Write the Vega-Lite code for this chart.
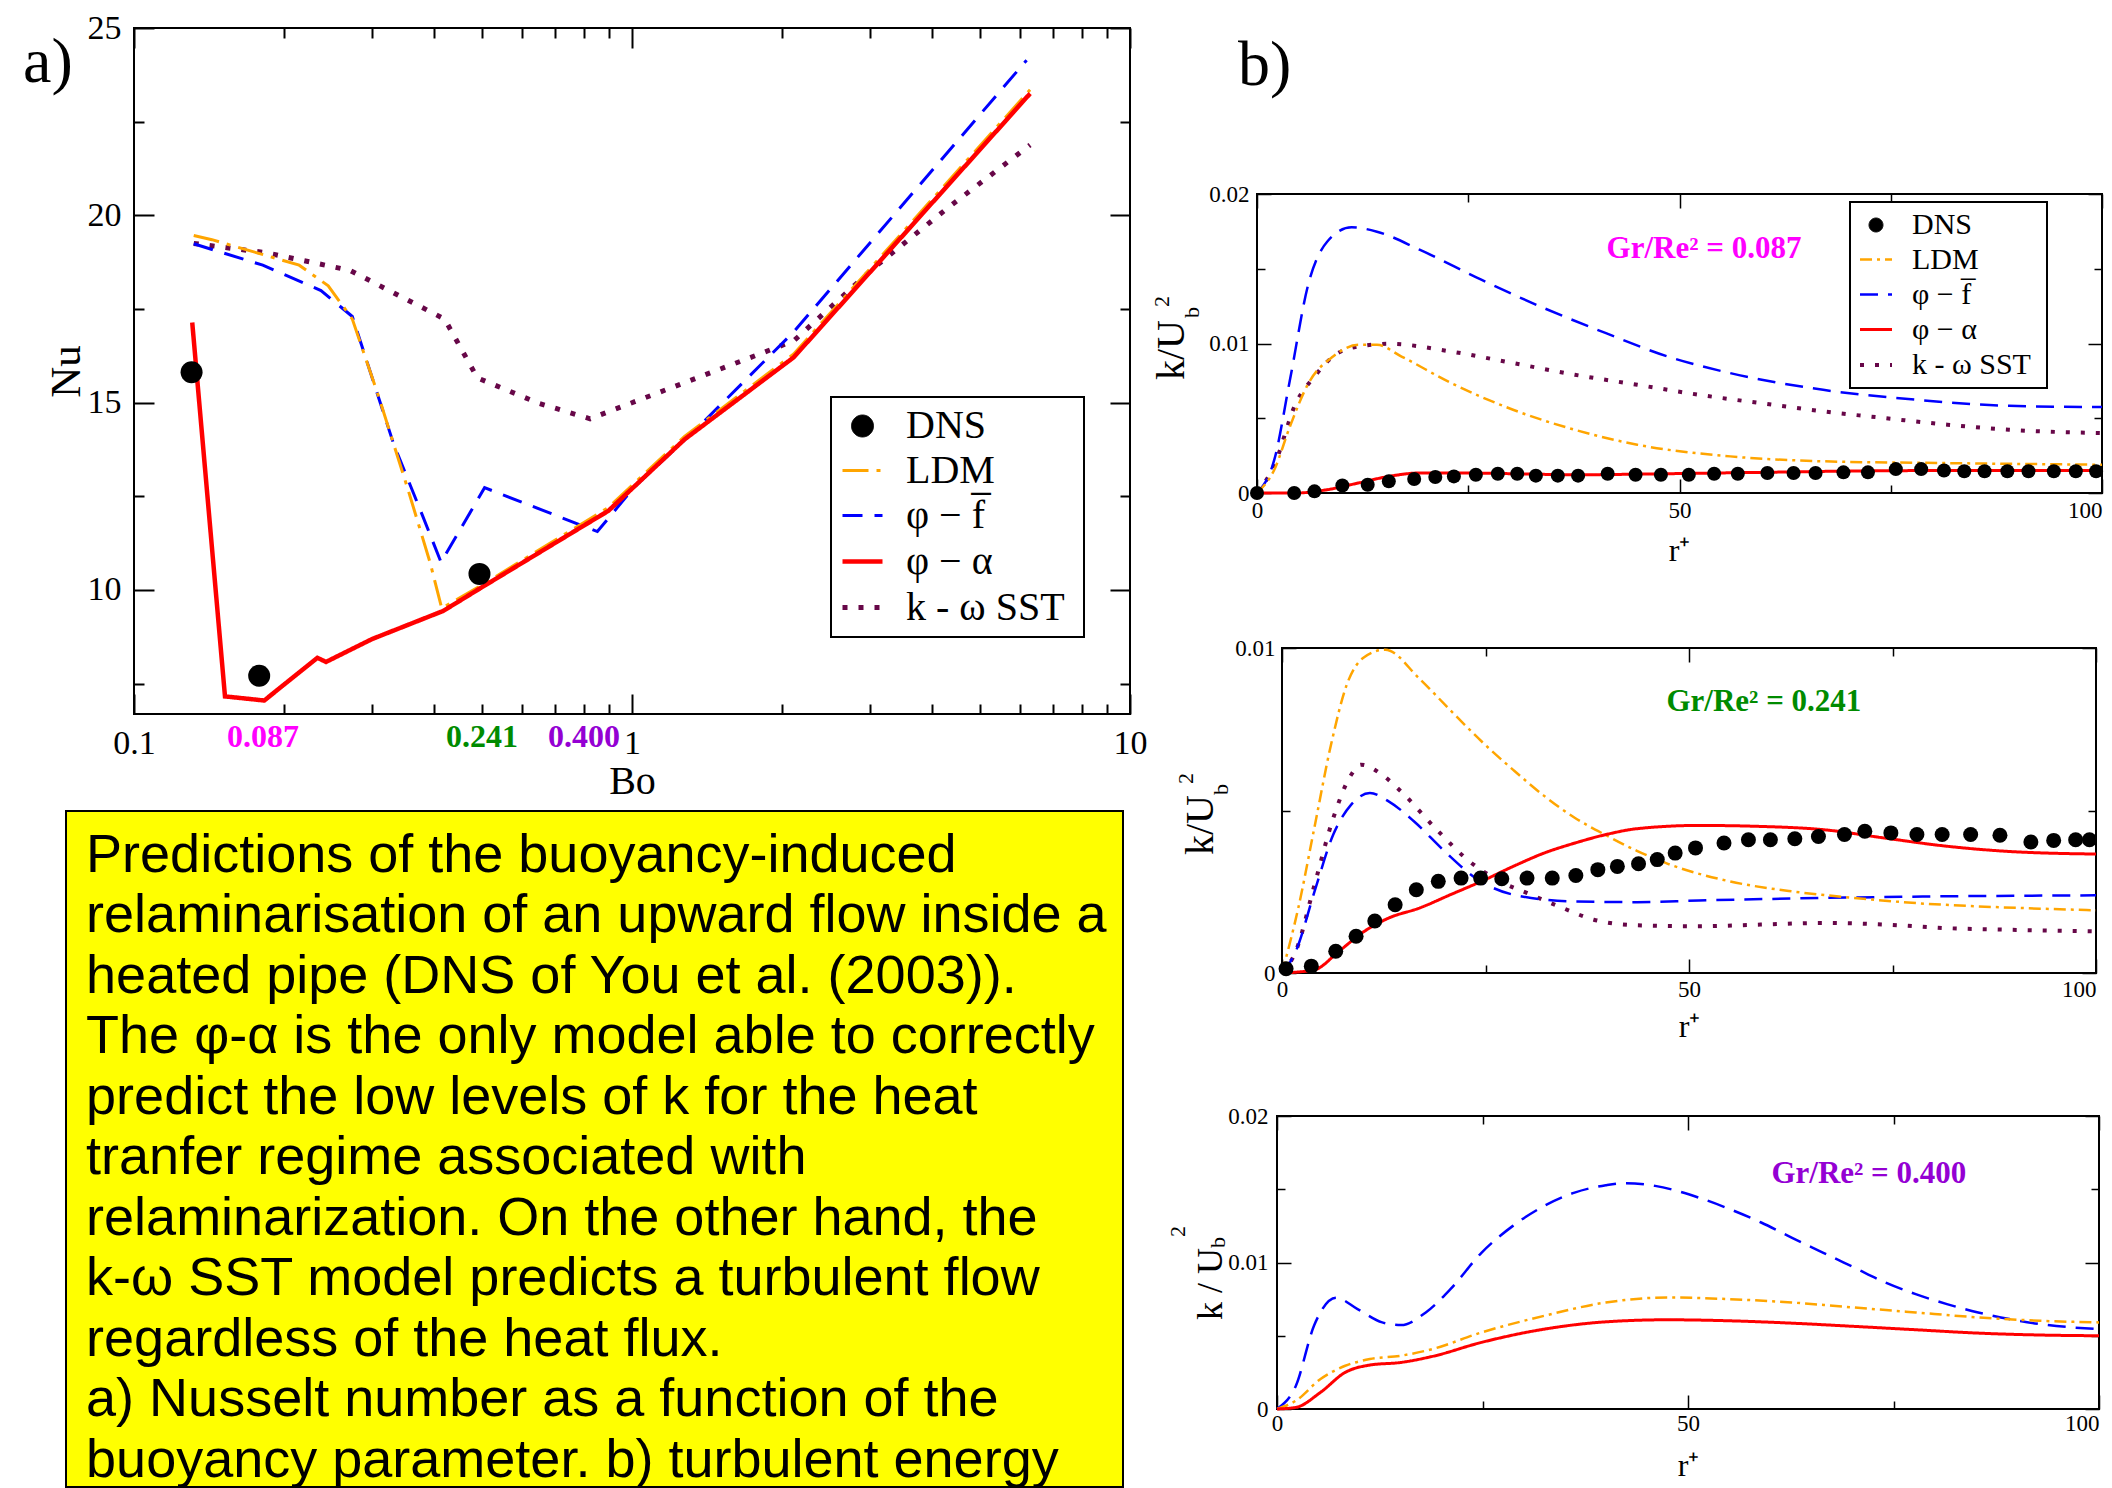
{
"$schema":"https://vega.github.io/schema/vega-lite/v6.json",
"background":"white",
"padding":{"left":21,"top":10,"right":0,"bottom":0},
"config":{
 "view":{"stroke":"black","strokeWidth":2},
 "axis":{"domain":false,"grid":false,"labelFont":"Liberation Serif","titleFont":"Liberation Serif","labelColor":"black","titleColor":"black","tickColor":"black","titleFontWeight":"normal","labelFlush":false,"labelOverlap":false},
 "legend":{"labelFont":"Liberation Serif","labelColor":"black","labelLimit":0,"strokeWidth":2}
},
"datasets":{
 "A_lines":[
  {"Bo":0.1318,"Nu":19.25,"m":"SST"},{"Bo":0.1845,"Nu":19.0,"m":"SST"},{"Bo":0.2715,"Nu":18.53,"m":"SST"},{"Bo":0.4206,"Nu":17.23,"m":"SST"},{"Bo":0.4893,"Nu":15.66,"m":"SST"},{"Bo":0.651,"Nu":14.98,"m":"SST"},{"Bo":0.8237,"Nu":14.57,"m":"SST"},{"Bo":1.846,"Nu":16.35,"m":"SST"},{"Bo":2.112,"Nu":16.65,"m":"SST"},{"Bo":3.06,"Nu":18.6,"m":"SST"},{"Bo":4.28,"Nu":20.17,"m":"SST"},{"Bo":6.3,"Nu":21.88,"m":"SST"},
  {"Bo":0.1318,"Nu":19.24,"m":"PF"},{"Bo":0.1814,"Nu":18.67,"m":"PF"},{"Bo":0.2374,"Nu":17.99,"m":"PF"},{"Bo":0.2744,"Nu":17.3,"m":"PF"},{"Bo":0.3323,"Nu":13.89,"m":"PF"},{"Bo":0.38,"Nu":11.97,"m":"PF"},{"Bo":0.4136,"Nu":10.74,"m":"PF"},{"Bo":0.5058,"Nu":12.73,"m":"PF"},{"Bo":0.852,"Nu":11.56,"m":"PF"},{"Bo":1.008,"Nu":12.73,"m":"PF"},{"Bo":1.364,"Nu":14.37,"m":"PF"},{"Bo":2.112,"Nu":16.89,"m":"PF"},{"Bo":6.2,"Nu":24.14,"m":"PF"},
  {"Bo":0.1318,"Nu":19.46,"m":"LDM"},{"Bo":0.1434,"Nu":19.35,"m":"LDM"},{"Bo":0.2146,"Nu":18.67,"m":"LDM"},{"Bo":0.2455,"Nu":18.12,"m":"LDM"},{"Bo":0.2744,"Nu":17.23,"m":"LDM"},{"Bo":0.3107,"Nu":15.12,"m":"LDM"},{"Bo":0.3554,"Nu":12.66,"m":"LDM"},{"Bo":0.393,"Nu":10.74,"m":"LDM"},{"Bo":0.415,"Nu":9.51,"m":"LDM"},{"Bo":0.4977,"Nu":10.12,"m":"LDM"},{"Bo":0.796,"Nu":11.78,"m":"LDM"},{"Bo":0.896,"Nu":12.2,"m":"LDM"},{"Bo":1.275,"Nu":14.1,"m":"LDM"},{"Bo":2.112,"Nu":16.3,"m":"LDM"},{"Bo":6.3,"Nu":23.35,"m":"LDM"},
  {"Bo":0.1309,"Nu":17.14,"m":"PA"},{"Bo":0.1523,"Nu":7.16,"m":"PA"},{"Bo":0.1826,"Nu":7.05,"m":"PA"},{"Bo":0.2335,"Nu":8.19,"m":"PA"},{"Bo":0.243,"Nu":8.08,"m":"PA"},{"Bo":0.3006,"Nu":8.69,"m":"PA"},{"Bo":0.4176,"Nu":9.44,"m":"PA"},{"Bo":0.4977,"Nu":10.06,"m":"PA"},{"Bo":0.796,"Nu":11.7,"m":"PA"},{"Bo":0.896,"Nu":12.11,"m":"PA"},{"Bo":1.275,"Nu":14.02,"m":"PA"},{"Bo":2.112,"Nu":16.21,"m":"PA"},{"Bo":6.3,"Nu":23.25,"m":"PA"}
 ],
 "A_dns":[{"Bo":0.1305,"Nu":15.81,"m":"DNS"},{"Bo":0.1784,"Nu":7.71,"m":"DNS"},{"Bo":0.494,"Nu":10.43,"m":"DNS"}],
 "B1_lines":[
  {"r":0,"k":0,"m":"SST"},{"r":2,"k":0.0018,"m":"SST"},{"r":4.6,"k":0.00601,"m":"SST"},{"r":6.8,"k":0.00779,"m":"SST"},{"r":9,"k":0.00913,"m":"SST"},{"r":12,"k":0.0098,"m":"SST"},{"r":15.6,"k":0.00998,"m":"SST"},{"r":23,"k":0.00946,"m":"SST"},{"r":30.3,"k":0.00869,"m":"SST"},{"r":37.6,"k":0.00791,"m":"SST"},{"r":45,"k":0.00724,"m":"SST"},{"r":52.3,"k":0.00657,"m":"SST"},{"r":59.6,"k":0.00601,"m":"SST"},{"r":67,"k":0.00546,"m":"SST"},{"r":74.3,"k":0.00501,"m":"SST"},{"r":81.7,"k":0.00457,"m":"SST"},{"r":89,"k":0.00423,"m":"SST"},{"r":100,"k":0.00401,"m":"SST"},
  {"r":0,"k":0,"m":"PF"},{"r":2.05,"k":0.00223,"m":"PF"},{"r":3.9,"k":0.00757,"m":"PF"},{"r":6.1,"k":0.01403,"m":"PF"},{"r":8.3,"k":0.01681,"m":"PF"},{"r":11.2,"k":0.01777,"m":"PF"},{"r":14.2,"k":0.01748,"m":"PF"},{"r":19.3,"k":0.01626,"m":"PF"},{"r":26.6,"k":0.01425,"m":"PF"},{"r":34,"k":0.01236,"m":"PF"},{"r":41.3,"k":0.01069,"m":"PF"},{"r":48.6,"k":0.00913,"m":"PF"},{"r":56,"k":0.00802,"m":"PF"},{"r":67,"k":0.0069,"m":"PF"},{"r":78,"k":0.00624,"m":"PF"},{"r":89,"k":0.00583,"m":"PF"},{"r":100,"k":0.00575,"m":"PF"},
  {"r":0,"k":0,"m":"LDM"},{"r":2.05,"k":0.00156,"m":"LDM"},{"r":3.9,"k":0.00445,"m":"LDM"},{"r":6.1,"k":0.00735,"m":"LDM"},{"r":9,"k":0.00913,"m":"LDM"},{"r":12,"k":0.00991,"m":"LDM"},{"r":14.2,"k":0.00991,"m":"LDM"},{"r":17.1,"k":0.00913,"m":"LDM"},{"r":23,"k":0.00735,"m":"LDM"},{"r":30.3,"k":0.00557,"m":"LDM"},{"r":37.6,"k":0.00423,"m":"LDM"},{"r":45,"k":0.00323,"m":"LDM"},{"r":56,"k":0.00245,"m":"LDM"},{"r":67,"k":0.00212,"m":"LDM"},{"r":81.7,"k":0.002,"m":"LDM"},{"r":100,"k":0.00189,"m":"LDM"},
  {"r":0,"k":0,"m":"PA"},{"r":4.6,"k":0,"m":"PA"},{"r":8.3,"k":0.00022,"m":"PA"},{"r":12,"k":0.00067,"m":"PA"},{"r":15.6,"k":0.00111,"m":"PA"},{"r":19.3,"k":0.00134,"m":"PA"},{"r":24.4,"k":0.00134,"m":"PA"},{"r":30.3,"k":0.00129,"m":"PA"},{"r":37.6,"k":0.00122,"m":"PA"},{"r":48.6,"k":0.00129,"m":"PA"},{"r":59.6,"k":0.00138,"m":"PA"},{"r":74.3,"k":0.00149,"m":"PA"},{"r":89,"k":0.00151,"m":"PA"},{"r":100,"k":0.00151,"m":"PA"}
 ],
 "B1_dns":[
  {"r":0,"k":0,"m":"DNS"},{"r":4.4,"k":0,"m":"DNS"},{"r":6.8,"k":0.00011,"m":"DNS"},{"r":10.1,"k":0.0005,"m":"DNS"},{"r":13.1,"k":0.00055,"m":"DNS"},{"r":15.6,"k":0.00078,"m":"DNS"},{"r":18.6,"k":0.00094,"m":"DNS"},{"r":21.1,"k":0.00107,"m":"DNS"},{"r":23.3,"k":0.00111,"m":"DNS"},{"r":25.9,"k":0.00122,"m":"DNS"},{"r":28.5,"k":0.00129,"m":"DNS"},{"r":30.8,"k":0.00129,"m":"DNS"},{"r":33,"k":0.00116,"m":"DNS"},{"r":35.6,"k":0.00116,"m":"DNS"},{"r":38,"k":0.00116,"m":"DNS"},{"r":41.5,"k":0.00129,"m":"DNS"},{"r":44.8,"k":0.00122,"m":"DNS"},{"r":47.8,"k":0.00122,"m":"DNS"},{"r":51.1,"k":0.00122,"m":"DNS"},{"r":54.1,"k":0.00129,"m":"DNS"},{"r":56.9,"k":0.00129,"m":"DNS"},{"r":60.4,"k":0.00134,"m":"DNS"},{"r":63.5,"k":0.00134,"m":"DNS"},{"r":66.1,"k":0.00134,"m":"DNS"},{"r":69.4,"k":0.00138,"m":"DNS"},{"r":72.3,"k":0.00138,"m":"DNS"},{"r":75.6,"k":0.0016,"m":"DNS"},{"r":78.6,"k":0.0016,"m":"DNS"},{"r":81.3,"k":0.00151,"m":"DNS"},{"r":83.7,"k":0.00145,"m":"DNS"},{"r":86.1,"k":0.00145,"m":"DNS"},{"r":88.8,"k":0.00145,"m":"DNS"},{"r":91.3,"k":0.00145,"m":"DNS"},{"r":94.3,"k":0.00145,"m":"DNS"},{"r":96.9,"k":0.00145,"m":"DNS"},{"r":99.3,"k":0.00145,"m":"DNS"}
 ],
 "B2_lines":[
  {"r":0,"k":0,"m":"SST"},{"r":1.7,"k":0.00067,"m":"SST"},{"r":4,"k":0.00272,"m":"SST"},{"r":6.3,"k":0.00477,"m":"SST"},{"r":8.5,"k":0.0061,"m":"SST"},{"r":9.7,"k":0.00641,"m":"SST"},{"r":12.3,"k":0.0061,"m":"SST"},{"r":14.6,"k":0.00559,"m":"SST"},{"r":19.2,"k":0.00436,"m":"SST"},{"r":23,"k":0.00344,"m":"SST"},{"r":26.8,"k":0.00282,"m":"SST"},{"r":30.6,"k":0.00241,"m":"SST"},{"r":34.5,"k":0.002,"m":"SST"},{"r":38.3,"k":0.00164,"m":"SST"},{"r":43.6,"k":0.00147,"m":"SST"},{"r":51.2,"k":0.00144,"m":"SST"},{"r":58.8,"k":0.00149,"m":"SST"},{"r":66.5,"k":0.00154,"m":"SST"},{"r":74.1,"k":0.00149,"m":"SST"},{"r":81.7,"k":0.00138,"m":"SST"},{"r":89.3,"k":0.00133,"m":"SST"},{"r":100,"k":0.00128,"m":"SST"},
  {"r":0,"k":0,"m":"PF"},{"r":1.7,"k":0.00067,"m":"PF"},{"r":4,"k":0.00251,"m":"PF"},{"r":6.3,"k":0.00426,"m":"PF"},{"r":8.5,"k":0.00518,"m":"PF"},{"r":10.8,"k":0.00554,"m":"PF"},{"r":13.1,"k":0.00528,"m":"PF"},{"r":16.2,"k":0.00467,"m":"PF"},{"r":20,"k":0.00374,"m":"PF"},{"r":23.8,"k":0.00292,"m":"PF"},{"r":28.4,"k":0.00241,"m":"PF"},{"r":36,"k":0.0022,"m":"PF"},{"r":43.6,"k":0.00218,"m":"PF"},{"r":51.2,"k":0.00223,"m":"PF"},{"r":66.5,"k":0.00231,"m":"PF"},{"r":81.7,"k":0.00236,"m":"PF"},{"r":100,"k":0.00239,"m":"PF"},
  {"r":0,"k":0,"m":"LDM"},{"r":2,"k":0.002,"m":"LDM"},{"r":4,"k":0.0045,"m":"LDM"},{"r":6,"k":0.007,"m":"LDM"},{"r":8,"k":0.0089,"m":"LDM"},{"r":10,"k":0.0097,"m":"LDM"},{"r":12.7,"k":0.00995,"m":"LDM"},{"r":16.9,"k":0.00905,"m":"LDM"},{"r":20.7,"k":0.00808,"m":"LDM"},{"r":24.5,"k":0.00713,"m":"LDM"},{"r":28.4,"k":0.00625,"m":"LDM"},{"r":32.2,"k":0.00545,"m":"LDM"},{"r":36,"k":0.00477,"m":"LDM"},{"r":39.8,"k":0.00424,"m":"LDM"},{"r":43.6,"k":0.00376,"m":"LDM"},{"r":47.4,"k":0.00336,"m":"LDM"},{"r":55,"k":0.00282,"m":"LDM"},{"r":62.7,"k":0.00251,"m":"LDM"},{"r":70.3,"k":0.00231,"m":"LDM"},{"r":77.9,"k":0.00215,"m":"LDM"},{"r":85.5,"k":0.00205,"m":"LDM"},{"r":93.1,"k":0.00198,"m":"LDM"},{"r":100,"k":0.00193,"m":"LDM"},
  {"r":0,"k":0,"m":"PA"},{"r":4,"k":0.0001,"m":"PA"},{"r":7,"k":0.00067,"m":"PA"},{"r":10.1,"k":0.00128,"m":"PA"},{"r":13.1,"k":0.00169,"m":"PA"},{"r":16.9,"k":0.002,"m":"PA"},{"r":20.7,"k":0.00241,"m":"PA"},{"r":24.5,"k":0.00282,"m":"PA"},{"r":28.4,"k":0.00328,"m":"PA"},{"r":32.2,"k":0.00369,"m":"PA"},{"r":36,"k":0.004,"m":"PA"},{"r":39.8,"k":0.00426,"m":"PA"},{"r":43.6,"k":0.00444,"m":"PA"},{"r":51.2,"k":0.00454,"m":"PA"},{"r":58.8,"k":0.00451,"m":"PA"},{"r":66.5,"k":0.00441,"m":"PA"},{"r":74.1,"k":0.00415,"m":"PA"},{"r":81.7,"k":0.0039,"m":"PA"},{"r":89.3,"k":0.00374,"m":"PA"},{"r":100,"k":0.00366,"m":"PA"}
 ],
 "B2_dns":[
  {"r":0.5,"k":0.00013,"m":"DNS"},{"r":3.6,"k":0.00021,"m":"DNS"},{"r":6.6,"k":0.00067,"m":"DNS"},{"r":9.1,"k":0.00113,"m":"DNS"},{"r":11.4,"k":0.0016,"m":"DNS"},{"r":13.9,"k":0.0021,"m":"DNS"},{"r":16.5,"k":0.00256,"m":"DNS"},{"r":19.2,"k":0.00282,"m":"DNS"},{"r":22,"k":0.00292,"m":"DNS"},{"r":24.4,"k":0.00292,"m":"DNS"},{"r":27,"k":0.0029,"m":"DNS"},{"r":30.1,"k":0.00292,"m":"DNS"},{"r":33.2,"k":0.00292,"m":"DNS"},{"r":36.1,"k":0.003,"m":"DNS"},{"r":38.8,"k":0.00318,"m":"DNS"},{"r":41.2,"k":0.00328,"m":"DNS"},{"r":43.8,"k":0.00336,"m":"DNS"},{"r":46.1,"k":0.00349,"m":"DNS"},{"r":48.3,"k":0.00369,"m":"DNS"},{"r":50.8,"k":0.00385,"m":"DNS"},{"r":54.3,"k":0.004,"m":"DNS"},{"r":57.3,"k":0.0041,"m":"DNS"},{"r":60,"k":0.0041,"m":"DNS"},{"r":63,"k":0.00413,"m":"DNS"},{"r":65.9,"k":0.0042,"m":"DNS"},{"r":69.1,"k":0.00426,"m":"DNS"},{"r":71.6,"k":0.00436,"m":"DNS"},{"r":74.8,"k":0.00431,"m":"DNS"},{"r":78,"k":0.00426,"m":"DNS"},{"r":81.1,"k":0.00426,"m":"DNS"},{"r":84.6,"k":0.00426,"m":"DNS"},{"r":88.2,"k":0.00424,"m":"DNS"},{"r":92,"k":0.00403,"m":"DNS"},{"r":94.8,"k":0.00408,"m":"DNS"},{"r":97.5,"k":0.0041,"m":"DNS"},{"r":99.2,"k":0.0041,"m":"DNS"}
 ],
 "B3_lines":[
  {"r":0,"k":0,"m":"PF"},{"r":2.3,"k":0.00159,"m":"PF"},{"r":4.5,"k":0.00568,"m":"PF"},{"r":7.2,"k":0.00759,"m":"PF"},{"r":9.8,"k":0.00682,"m":"PF"},{"r":12.8,"k":0.00591,"m":"PF"},{"r":15.1,"k":0.00573,"m":"PF"},{"r":18.1,"k":0.00659,"m":"PF"},{"r":21.1,"k":0.00818,"m":"PF"},{"r":24.9,"k":0.01068,"m":"PF"},{"r":28.7,"k":0.0125,"m":"PF"},{"r":32.5,"k":0.01386,"m":"PF"},{"r":36.2,"k":0.01477,"m":"PF"},{"r":40,"k":0.01527,"m":"PF"},{"r":42.3,"k":0.01541,"m":"PF"},{"r":46,"k":0.01523,"m":"PF"},{"r":51.3,"k":0.01443,"m":"PF"},{"r":55.1,"k":0.01364,"m":"PF"},{"r":58.9,"k":0.01273,"m":"PF"},{"r":62.6,"k":0.0117,"m":"PF"},{"r":66.4,"k":0.01068,"m":"PF"},{"r":70.2,"k":0.00966,"m":"PF"},{"r":74,"k":0.00864,"m":"PF"},{"r":77.7,"k":0.00784,"m":"PF"},{"r":81.5,"k":0.00716,"m":"PF"},{"r":85.3,"k":0.00659,"m":"PF"},{"r":89.1,"k":0.00614,"m":"PF"},{"r":92.8,"k":0.0058,"m":"PF"},{"r":100,"k":0.00545,"m":"PF"},
  {"r":0,"k":0,"m":"LDM"},{"r":2.3,"k":0.00057,"m":"LDM"},{"r":5.3,"k":0.00205,"m":"LDM"},{"r":8.3,"k":0.00295,"m":"LDM"},{"r":11.3,"k":0.00341,"m":"LDM"},{"r":15.1,"k":0.00364,"m":"LDM"},{"r":18.9,"k":0.00409,"m":"LDM"},{"r":24.9,"k":0.00523,"m":"LDM"},{"r":32.5,"k":0.00636,"m":"LDM"},{"r":40,"k":0.00727,"m":"LDM"},{"r":47.5,"k":0.00761,"m":"LDM"},{"r":55.1,"k":0.0075,"m":"LDM"},{"r":62.6,"k":0.00727,"m":"LDM"},{"r":70.2,"k":0.00693,"m":"LDM"},{"r":77.7,"k":0.00659,"m":"LDM"},{"r":85.3,"k":0.00625,"m":"LDM"},{"r":92.8,"k":0.00602,"m":"LDM"},{"r":100,"k":0.00591,"m":"LDM"},
  {"r":0,"k":0,"m":"PA"},{"r":2.3,"k":0.00011,"m":"PA"},{"r":5.3,"k":0.00114,"m":"PA"},{"r":8.3,"k":0.0025,"m":"PA"},{"r":11.3,"k":0.003,"m":"PA"},{"r":15.1,"k":0.00318,"m":"PA"},{"r":18.9,"k":0.00359,"m":"PA"},{"r":24.9,"k":0.00455,"m":"PA"},{"r":32.5,"k":0.00545,"m":"PA"},{"r":40,"k":0.00595,"m":"PA"},{"r":47.5,"k":0.00609,"m":"PA"},{"r":55.1,"k":0.00602,"m":"PA"},{"r":62.6,"k":0.00586,"m":"PA"},{"r":70.2,"k":0.00564,"m":"PA"},{"r":77.7,"k":0.00541,"m":"PA"},{"r":85.3,"k":0.00518,"m":"PA"},{"r":92.8,"k":0.00505,"m":"PA"},{"r":100,"k":0.005,"m":"PA"}
 ],
 "caption":[
  {"line":1,"text":"Predictions of the buoyancy-induced"},
  {"line":2,"text":"relaminarisation of an upward flow inside a"},
  {"line":3,"text":"heated pipe (DNS of You et al. (2003))."},
  {"line":4,"text":"The φ-α is the only model able to correctly"},
  {"line":5,"text":"predict the low levels of k for the heat"},
  {"line":6,"text":"tranfer regime associated with"},
  {"line":7,"text":"relaminarization. On the other hand, the"},
  {"line":8,"text":"k-ω  SST model predicts a turbulent flow"},
  {"line":9,"text":"regardless of the heat flux."},
  {"line":10,"text":"a) Nusselt number as a function of the"},
  {"line":11,"text":"buoyancy parameter. b) turbulent energy"}
 ]
},
"hconcat":[
 {
  "vconcat":[
   {
    "hconcat":[
     {"width":68,"height":1,"data":{"values":[]},"mark":"point","view":{"stroke":null}},
     {
      "width":996,"height":686,
      "resolve":{"axis":{"x":"independent","y":"independent"}},
      "layer":[
       {"data":{"name":"A_lines"},"mark":{"type":"line","interpolate":"linear"},
        "encoding":{
         "x":{"field":"Bo","type":"quantitative","scale":{"type":"log","domain":[0.1,10],"nice":false},
          "axis":{"orient":"bottom","values":[0.1,0.2,0.3,0.4,0.5,0.6,0.7,0.8,0.9,1,2,3,4,5,6,7,8,9,10],"format":"~g","labelExpr":"datum.value == 0.1 || datum.value == 1 || datum.value == 10 ? datum.label : ''","tickSize":{"condition":{"test":"datum.value == 0.1 || datum.value == 1 || datum.value == 10","value":-20},"value":-10},"tickWidth":2,"labelFontSize":34,"labelBaseline":"alphabetic","labelPadding":59,"title":"Bo","titleFontSize":40,"titleX":498,"titleY":79,"titleBaseline":"alphabetic","titleAlign":"center"}},
         "y":{"field":"Nu","type":"quantitative","scale":{"domain":[6.69,25],"nice":false,"zero":false},
          "axis":{"orient":"left","values":[7.5,10,12.5,15,17.5,20,22.5,25],"format":"~g","labelExpr":"datum.value % 5 == 0 ? datum.label : ''","tickSize":{"condition":{"test":"datum.value % 5 == 0","value":-20},"value":-10},"tickWidth":2,"labelFontSize":34,"labelPadding":33,"title":"Nu","titleFontSize":43,"titleAngle":270,"titleX":-55,"titleY":343,"titleBaseline":"alphabetic","titleAlign":"center"}},
         "color":{"field":"m","type":"nominal","scale":{"domain":["DNS","LDM","PF","PA","SST"],"range":["#000000","#ffa500","#0000ff","#ff0000","#670748"]},
          "legend":{"orient":"none","legendX":697,"legendY":369,"title":null,"labelFontSize":40,"labelOffset":21,"rowPadding":3,"padding":9,"strokeColor":"black","fillColor":"white",
           "labelExpr":"datum.value == 'PF' ? 'φ − f̅' : datum.value == 'PA' ? 'φ − α' : datum.value == 'SST' ? 'k - ω  SST' : datum.value"}},
         "strokeDash":{"field":"m","type":"nominal","scale":{"domain":["DNS","LDM","PF","PA","SST"],"range":[[1,0],[26,8,4,8],[20,12],[1,0],[5,11]]}},
         "strokeWidth":{"field":"m","type":"nominal","scale":{"type":"ordinal","domain":["DNS","LDM","PF","PA","SST"],"range":[1,3,3,4.5,5]}}
        }},
       {"data":{"name":"A_dns"},"mark":{"type":"point","filled":true,"opacity":1},
        "encoding":{
         "x":{"field":"Bo","type":"quantitative","axis":{"orient":"top","values":[0.1,0.2,0.3,0.4,0.5,0.6,0.7,0.8,0.9,1,2,3,4,5,6,7,8,9,10],"labels":false,"tickSize":{"condition":{"test":"datum.value == 0.1 || datum.value == 1 || datum.value == 10","value":-20},"value":-10},"tickWidth":2,"title":null}},
         "y":{"field":"Nu","type":"quantitative","axis":{"orient":"right","values":[7.5,10,12.5,15,17.5,20,22.5,25],"labels":false,"tickSize":{"condition":{"test":"datum.value % 5 == 0","value":-20},"value":-10},"tickWidth":2,"title":null}},
         "color":{"field":"m","type":"nominal"},
         "shape":{"field":"m","type":"nominal","scale":{"domain":["DNS","LDM","PF","PA","SST"],"range":["circle","stroke","stroke","stroke","stroke"]}},
         "size":{"field":"m","type":"nominal","scale":{"type":"ordinal","domain":["DNS","LDM","PF","PA","SST"],"range":[484,1600,1600,1600,1600]}}
        }},
       {"data":{"values":[{}]},"mark":{"type":"text","text":"0.087","font":"Liberation Serif","fontSize":32,"fontWeight":"bold","color":"#ff00ff","align":"center","baseline":"alphabetic"},
        "encoding":{"x":{"datum":0.1816,"type":"quantitative","axis":null},"y":{"datum":5.81,"type":"quantitative","axis":null}}},
       {"data":{"values":[{}]},"mark":{"type":"text","text":"0.241","font":"Liberation Serif","fontSize":32,"fontWeight":"bold","color":"#008b00","align":"center","baseline":"alphabetic"},
        "encoding":{"x":{"datum":0.4997,"type":"quantitative","axis":null},"y":{"datum":5.81,"type":"quantitative","axis":null}}},
       {"data":{"values":[{}]},"mark":{"type":"text","text":"0.400","font":"Liberation Serif","fontSize":32,"fontWeight":"bold","color":"#9400d3","align":"center","baseline":"alphabetic"},
        "encoding":{"x":{"datum":0.8009,"type":"quantitative","axis":null},"y":{"datum":5.81,"type":"quantitative","axis":null}}},
       {"data":{"values":[{}]},"mark":{"type":"text","text":"a)","font":"Liberation Serif","fontSize":64,"color":"black","align":"left","baseline":"alphabetic"},
        "encoding":{"x":{"datum":0.05985,"type":"quantitative","axis":null},"y":{"datum":23.56,"type":"quantitative","axis":null}}}
      ]
     }
    ],
    "spacing":0,
    "bounds":"flush",
    "resolve":{"scale":{"color":"independent","strokeDash":"independent","strokeWidth":"independent","shape":"independent","size":"independent"}}
   },
   {
    "width":1057,"height":676,
    "view":{"fill":"#ffff00","stroke":"black","strokeWidth":2},
    "data":{"name":"caption"},
    "mark":{"type":"text","font":"Liberation Sans","fontSize":54,"align":"left","baseline":"alphabetic","color":"black"},
    "encoding":{
     "x":{"datum":0.019,"type":"quantitative","scale":{"domain":[0,1]},"axis":null},
     "y":{"field":"line","type":"quantitative","scale":{"domain":[0,11.17],"reverse":true,"nice":false,"zero":false},"axis":null},
     "text":{"field":"text","type":"nominal"}
    }
   }
  ],
  "spacing":8,
  "resolve":{"scale":{"color":"independent","strokeDash":"independent","strokeWidth":"independent","shape":"independent","size":"independent"}}
 },
 {
  "vconcat":[
   {"width":10,"height":5,"data":{"values":[]},"mark":"point","view":{"stroke":null}},
   {
    "width":845,"height":299,
    "resolve":{"axis":{"x":"independent","y":"independent"}},
    "layer":[
     {"data":{"name":"B1_lines"},"mark":{"type":"line","interpolate":"monotone"},
      "encoding":{
       "x":{"field":"r","type":"quantitative","scale":{"domain":[0,100],"nice":false},
        "axis":{"orient":"bottom","values":[0,25,50,75,100],"format":"d","labelExpr":"datum.value % 50 == 0 ? datum.label : ''","tickSize":{"condition":{"test":"datum.value % 50 == 0","value":-14},"value":-8},"tickWidth":1.5,"labelFontSize":23,"labelPadding":20,"labelAlign":{"condition":{"test":"datum.value == 100","value":"right"},"value":"center"},"title":"r⁺","titleFontSize":32,"titleX":422,"titleY":67,"titleBaseline":"alphabetic","titleAlign":"center"}},
       "y":{"field":"k","type":"quantitative","scale":{"domain":[0,0.02],"nice":false},
        "axis":{"orient":"left","values":[0,0.005,0.01,0.015,0.02],"format":"~g","labelExpr":"datum.value == 0.005 || datum.value == 0.015 ? '' : datum.label","tickSize":{"condition":{"test":"datum.value == 0.005 || datum.value == 0.015","value":-8},"value":-14},"tickWidth":1.5,"labelFontSize":23,"labelPadding":22,"title":null}},
       "color":{"field":"m","type":"nominal","scale":{"domain":["DNS","LDM","PF","PA","SST"],"range":["#000000","#ffa500","#0000ff","#ff0000","#670748"]},
        "legend":{"orient":"none","legendX":593,"legendY":8,"title":null,"labelFontSize":30,"labelOffset":18,"rowPadding":2,"padding":8,"strokeColor":"black","fillColor":"white",
         "labelExpr":"datum.value == 'PF' ? 'φ − f̅' : datum.value == 'PA' ? 'φ − α' : datum.value == 'SST' ? 'k - ω  SST' : datum.value"}},
       "strokeDash":{"field":"m","type":"nominal","scale":{"domain":["DNS","LDM","PF","PA","SST"],"range":[[1,0],[12,5,3,5],[18,10],[1,0],[4,11]]}},
       "strokeWidth":{"field":"m","type":"nominal","scale":{"type":"ordinal","domain":["DNS","LDM","PF","PA","SST"],"range":[1,2.5,2.5,3,4]}}
      }},
     {"data":{"name":"B1_dns"},"mark":{"type":"point","filled":true,"opacity":1},
      "encoding":{"x":{"field":"r","type":"quantitative","axis":null},"y":{"field":"k","type":"quantitative","axis":null},"color":{"field":"m","type":"nominal"},
       "shape":{"field":"m","type":"nominal","scale":{"domain":["DNS","LDM","PF","PA","SST"],"range":["circle","stroke","stroke","stroke","stroke"]}},
       "size":{"field":"m","type":"nominal","scale":{"type":"ordinal","domain":["DNS","LDM","PF","PA","SST"],"range":[196,1024,1024,1024,1024]}}}},
     {"data":{"values":[{}]},"mark":{"type":"text","text":"Gr/Re² = 0.087","font":"Liberation Serif","fontSize":31,"fontWeight":"bold","color":"#ff00ff","align":"center","baseline":"alphabetic"},
      "encoding":{
       "x":{"datum":52.9,"type":"quantitative","axis":{"orient":"top","values":[0,25,50,75,100],"labels":false,"tickSize":{"condition":{"test":"datum.value % 50 == 0","value":-14},"value":-8},"tickWidth":1.5,"title":null}},
       "y":{"datum":0.01572,"type":"quantitative","axis":{"orient":"right","values":[0,0.005,0.01,0.015,0.02],"labels":false,"tickSize":{"condition":{"test":"datum.value == 0.005 || datum.value == 0.015","value":-8},"value":-14},"tickWidth":1.5,"title":null}}}},
     {"data":{"values":[{}]},"mark":{"type":"text","text":"k/U","font":"Liberation Serif","fontSize":40,"angle":270,"align":"left","baseline":"alphabetic","color":"black"},
      "encoding":{"x":{"datum":-8.64,"type":"quantitative","axis":null},"y":{"datum":0.007559,"type":"quantitative","axis":null}}},
     {"data":{"values":[{}]},"mark":{"type":"text","text":"b","font":"Liberation Serif","fontSize":22,"angle":270,"align":"left","baseline":"alphabetic","color":"black"},
      "encoding":{"x":{"datum":-6.86,"type":"quantitative","axis":null},"y":{"datum":0.01171,"type":"quantitative","axis":null}}},
     {"data":{"values":[{}]},"mark":{"type":"text","text":"2","font":"Liberation Serif","fontSize":22,"angle":270,"align":"left","baseline":"alphabetic","color":"black"},
      "encoding":{"x":{"datum":-10.41,"type":"quantitative","axis":null},"y":{"datum":0.01244,"type":"quantitative","axis":null}}},
     {"data":{"values":[{}]},"mark":{"type":"text","text":"b)","font":"Liberation Serif","fontSize":64,"align":"left","baseline":"alphabetic","color":"black"},
      "encoding":{"x":{"datum":-2.25,"type":"quantitative","axis":null},"y":{"datum":0.02729,"type":"quantitative","axis":null}}}
    ]
   },
   {"width":10,"height":69,"data":{"values":[]},"mark":"point","view":{"stroke":null}},
   {
    "hconcat":[
     {"width":25,"height":1,"data":{"values":[]},"mark":"point","view":{"stroke":null}},
     {
      "width":814,"height":325,
      "resolve":{"axis":{"x":"independent","y":"independent"}},
      "layer":[
       {"data":{"name":"B2_lines"},"mark":{"type":"line","interpolate":"monotone"},
        "encoding":{
         "x":{"field":"r","type":"quantitative","scale":{"domain":[0,100],"nice":false},
          "axis":{"orient":"bottom","values":[0,25,50,75,100],"format":"d","labelExpr":"datum.value % 50 == 0 ? datum.label : ''","tickSize":{"condition":{"test":"datum.value % 50 == 0","value":-14},"value":-8},"tickWidth":1.5,"labelFontSize":23,"labelPadding":19,"labelAlign":{"condition":{"test":"datum.value == 100","value":"right"},"value":"center"},"title":"r⁺","titleFontSize":32,"titleX":407,"titleY":63,"titleBaseline":"alphabetic","titleAlign":"center"}},
         "y":{"field":"k","type":"quantitative","scale":{"domain":[0,0.01],"nice":false},
          "axis":{"orient":"left","values":[0,0.005,0.01],"format":"~g","labelExpr":"datum.value == 0.005 ? '' : datum.label","tickSize":{"condition":{"test":"datum.value == 0.005","value":-8},"value":-14},"tickWidth":1.5,"labelFontSize":23,"labelPadding":21,"title":null}},
         "color":{"field":"m","type":"nominal","scale":{"domain":["DNS","LDM","PF","PA","SST"],"range":["#000000","#ffa500","#0000ff","#ff0000","#670748"]},"legend":null},
         "strokeDash":{"field":"m","type":"nominal","scale":{"domain":["DNS","LDM","PF","PA","SST"],"range":[[1,0],[12,5,3,5],[18,10],[1,0],[4,11]]},"legend":null},
         "strokeWidth":{"field":"m","type":"nominal","scale":{"type":"ordinal","domain":["DNS","LDM","PF","PA","SST"],"range":[1,2.5,2.5,3,4]},"legend":null}
        }},
       {"data":{"name":"B2_dns"},"mark":{"type":"point","filled":true,"size":225,"opacity":1,"color":"black"},
        "encoding":{"x":{"field":"r","type":"quantitative","axis":null},"y":{"field":"k","type":"quantitative","axis":null}}},
       {"data":{"values":[{}]},"mark":{"type":"text","text":"Gr/Re² = 0.241","font":"Liberation Serif","fontSize":31,"fontWeight":"bold","color":"#008b00","align":"center","baseline":"alphabetic"},
        "encoding":{
         "x":{"datum":59.2,"type":"quantitative","axis":{"orient":"top","values":[0,25,50,75,100],"labels":false,"tickSize":{"condition":{"test":"datum.value % 50 == 0","value":-14},"value":-8},"tickWidth":1.5,"title":null}},
         "y":{"datum":0.00806,"type":"quantitative","axis":{"orient":"right","values":[0,0.005,0.01],"labels":false,"tickSize":{"condition":{"test":"datum.value == 0.005","value":-8},"value":-14},"tickWidth":1.5,"title":null}}}},
       {"data":{"values":[{}]},"mark":{"type":"text","text":"k/U","font":"Liberation Serif","fontSize":40,"angle":270,"align":"left","baseline":"alphabetic","color":"black"},
        "encoding":{"x":{"datum":-8.48,"type":"quantitative","axis":null},"y":{"datum":0.003631,"type":"quantitative","axis":null}}},
       {"data":{"values":[{}]},"mark":{"type":"text","text":"b","font":"Liberation Serif","fontSize":22,"angle":270,"align":"left","baseline":"alphabetic","color":"black"},
        "encoding":{"x":{"datum":-6.63,"type":"quantitative","axis":null},"y":{"datum":0.005477,"type":"quantitative","axis":null}}},
       {"data":{"values":[{}]},"mark":{"type":"text","text":"2","font":"Liberation Serif","fontSize":22,"angle":270,"align":"left","baseline":"alphabetic","color":"black"},
        "encoding":{"x":{"datum":-10.93,"type":"quantitative","axis":null},"y":{"datum":0.005815,"type":"quantitative","axis":null}}}
      ]
     }
    ],
    "spacing":0,
    "bounds":"flush",
    "resolve":{"scale":{"color":"independent","strokeDash":"independent","strokeWidth":"independent","shape":"independent","size":"independent"}}
   },
   {"width":10,"height":61,"data":{"values":[]},"mark":"point","view":{"stroke":null}},
   {
    "hconcat":[
     {"width":20,"height":1,"data":{"values":[]},"mark":"point","view":{"stroke":null}},
     {
      "width":822,"height":293,
      "resolve":{"axis":{"x":"independent","y":"independent"}},
      "layer":[
       {"data":{"name":"B3_lines"},"mark":{"type":"line","interpolate":"monotone"},
        "encoding":{
         "x":{"field":"r","type":"quantitative","scale":{"domain":[0,100],"nice":false},
          "axis":{"orient":"bottom","values":[0,25,50,75,100],"format":"d","labelExpr":"datum.value % 50 == 0 ? datum.label : ''","tickSize":{"condition":{"test":"datum.value % 50 == 0","value":-14},"value":-8},"tickWidth":1.5,"labelFontSize":23,"labelPadding":17,"labelAlign":{"condition":{"test":"datum.value == 100","value":"right"},"value":"center"},"title":"r⁺","titleFontSize":32,"titleX":411,"titleY":66,"titleBaseline":"alphabetic","titleAlign":"center"}},
         "y":{"field":"k","type":"quantitative","scale":{"domain":[0,0.02],"nice":false},
          "axis":{"orient":"left","values":[0,0.005,0.01,0.015,0.02],"format":"~g","labelExpr":"datum.value == 0.005 || datum.value == 0.015 ? '' : datum.label","tickSize":{"condition":{"test":"datum.value == 0.005 || datum.value == 0.015","value":-8},"value":-14},"tickWidth":1.5,"labelFontSize":23,"labelPadding":23,"title":null}},
         "color":{"field":"m","type":"nominal","scale":{"domain":["DNS","LDM","PF","PA","SST"],"range":["#000000","#ffa500","#0000ff","#ff0000","#670748"]},"legend":null},
         "strokeDash":{"field":"m","type":"nominal","scale":{"domain":["DNS","LDM","PF","PA","SST"],"range":[[1,0],[12,5,3,5],[18,10],[1,0],[4,11]]},"legend":null},
         "strokeWidth":{"field":"m","type":"nominal","scale":{"type":"ordinal","domain":["DNS","LDM","PF","PA","SST"],"range":[1,2.5,2.5,3,4]},"legend":null}
        }},
       {"data":{"values":[{}]},"mark":{"type":"text","text":"Gr/Re² = 0.400","font":"Liberation Serif","fontSize":31,"fontWeight":"bold","color":"#9400d3","align":"center","baseline":"alphabetic"},
        "encoding":{
         "x":{"datum":72.0,"type":"quantitative","axis":{"orient":"top","values":[0,25,50,75,100],"labels":false,"tickSize":{"condition":{"test":"datum.value % 50 == 0","value":-14},"value":-8},"tickWidth":1.5,"title":null}},
         "y":{"datum":0.01543,"type":"quantitative","axis":{"orient":"right","values":[0,0.005,0.01,0.015,0.02],"labels":false,"tickSize":{"condition":{"test":"datum.value == 0.005 || datum.value == 0.015","value":-8},"value":-14},"tickWidth":1.5,"title":null}}}},
       {"data":{"values":[{}]},"mark":{"type":"text","text":"k / U","font":"Liberation Serif","fontSize":36,"angle":270,"align":"left","baseline":"alphabetic","color":"black"},
        "encoding":{"x":{"datum":-6.69,"type":"quantitative","axis":null},"y":{"datum":0.006075,"type":"quantitative","axis":null}}},
       {"data":{"values":[{}]},"mark":{"type":"text","text":"b","font":"Liberation Serif","fontSize":22,"angle":270,"align":"left","baseline":"alphabetic","color":"black"},
        "encoding":{"x":{"datum":-6.33,"type":"quantitative","axis":null},"y":{"datum":0.01099,"type":"quantitative","axis":null}}},
       {"data":{"values":[{}]},"mark":{"type":"text","text":"2","font":"Liberation Serif","fontSize":22,"angle":270,"align":"left","baseline":"alphabetic","color":"black"},
        "encoding":{"x":{"datum":-11.2,"type":"quantitative","axis":null},"y":{"datum":0.01174,"type":"quantitative","axis":null}}}
      ]
     }
    ],
    "spacing":0,
    "bounds":"flush",
    "resolve":{"scale":{"color":"independent","strokeDash":"independent","strokeWidth":"independent","shape":"independent","size":"independent"}}
   }
  ],
  "spacing":0,
  "resolve":{"scale":{"color":"independent","strokeDash":"independent","strokeWidth":"independent","shape":"independent","size":"independent"}}
 }
],
"spacing":2,
"resolve":{"scale":{"color":"independent","strokeDash":"independent","strokeWidth":"independent","shape":"independent","size":"independent"}}
}
